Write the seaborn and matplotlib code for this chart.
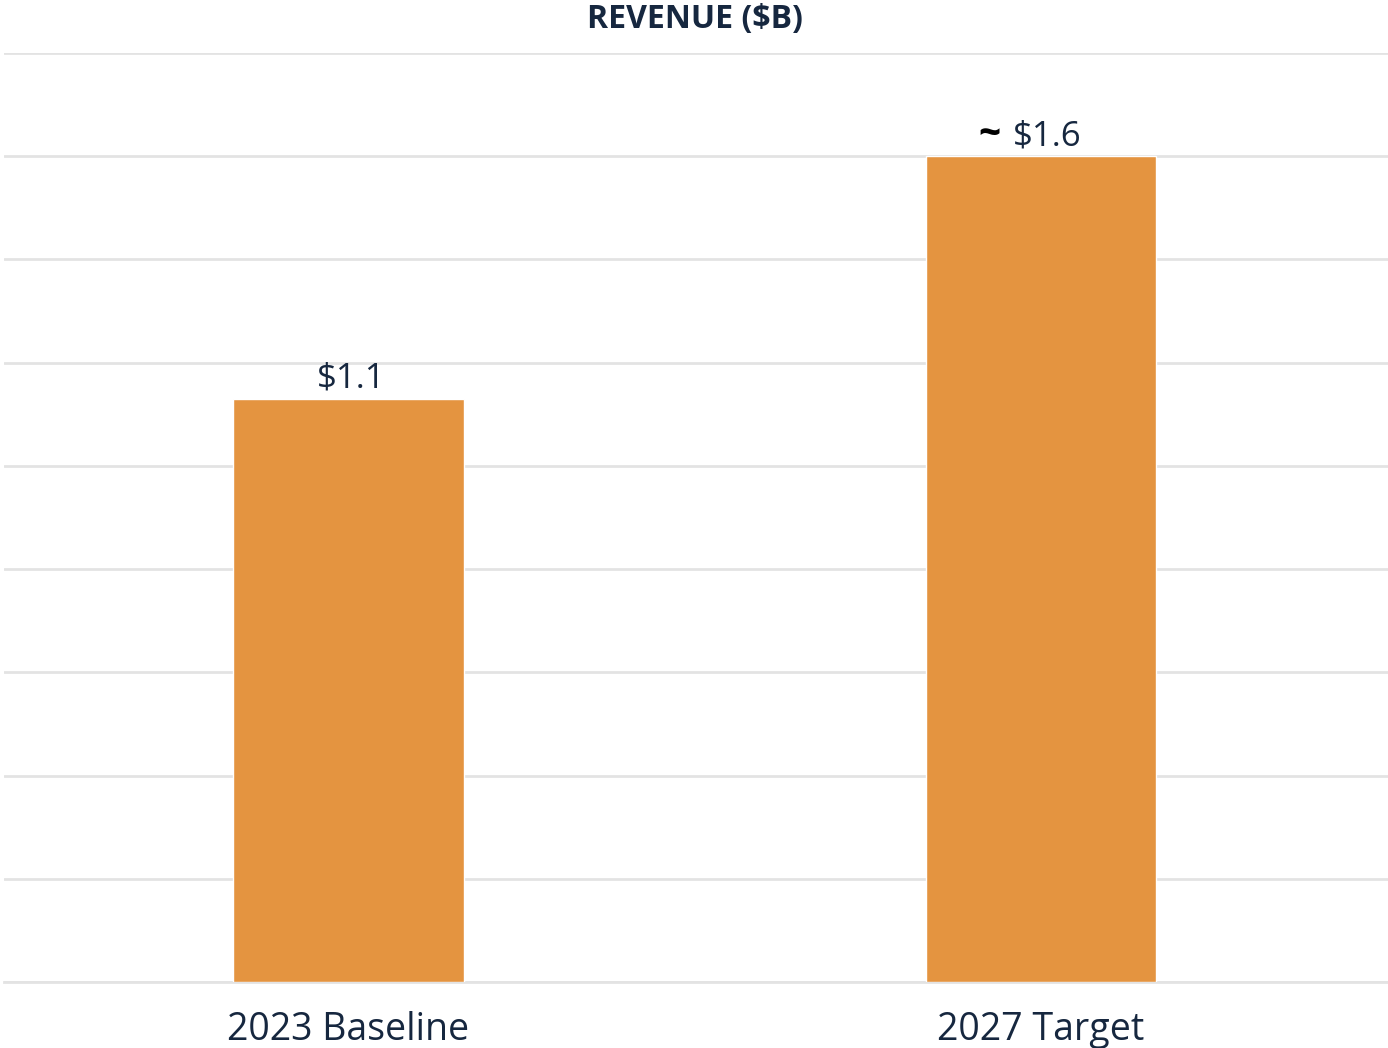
import matplotlib
matplotlib.use("Agg")
import matplotlib.pyplot as plt
import seaborn as sns
import pandas as pd

# Revenue data ($B)
categories = ["2023 Baseline", "2027 Target"]
revenue = [1.13, 1.6]
approx = [False, True]

navy = "#16273F"
bar_color = "#E49440"
grid_color = "#E3E3E3"

sns.set_theme(style="white")
plt.rcParams["font.family"] = ["Open Sans", "DejaVu Sans"]

df = pd.DataFrame({"category": categories, "revenue": revenue})

fig = plt.figure(figsize=(13.88, 10.48), dpi=100)
ax = fig.add_axes([0.003, 0.063, 0.997, 0.8865])

sns.barplot(data=df, x="category", y="revenue", color=bar_color,
            width=0.333, saturation=1, ax=ax, zorder=3)

ax.set_ylim(0, 1.8)
ax.set_xlim(-0.497, 1.501)
ax.set_yticks([i * 0.2 for i in range(10)])
ax.yaxis.grid(True, color=grid_color, linewidth=2)
ax.set_axisbelow(True)
ax.tick_params(axis="y", left=False, labelleft=False)
ax.tick_params(axis="x", bottom=False, labelsize=27, labelcolor=navy, pad=15)
for s in ["top", "right", "left"]:
    ax.spines[s].set_visible(False)
ax.spines["bottom"].set_color(grid_color)
ax.spines["bottom"].set_linewidth(2)
ax.set_xlabel("")
ax.set_ylabel("")

# Value labels; approximate targets get a black tilde in front
for i, (v, a) in enumerate(zip(revenue, approx)):
    label = f"${v:.1f}"
    if a:
        ax.annotate(label, (i, v), xytext=(-20, 2), textcoords="offset points",
                    ha="left", va="bottom", fontsize=25, color=navy)
        ax.annotate("~", (i, v), xytext=(-29, 1), textcoords="offset points",
                    ha="right", va="bottom", fontsize=28, fontweight="bold",
                    color="black")
    else:
        ax.annotate(label, (i, v), xytext=(2, 2), textcoords="offset points",
                    ha="center", va="bottom", fontsize=25, color=navy)

fig.text(0.501, 0.981, "REVENUE ($B)", ha="center", va="center",
         fontsize=23, fontweight="bold", color=navy)

fig.savefig("out.png", dpi=100, facecolor="white")
